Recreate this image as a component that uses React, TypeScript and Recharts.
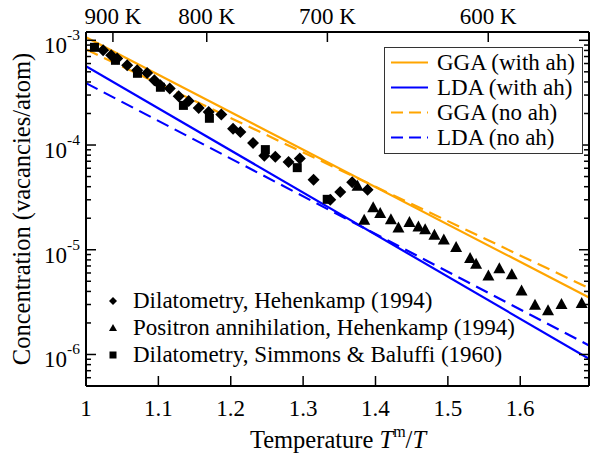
import React from 'react';
import { ComposedChart, Line, Scatter, XAxis, YAxis, Label } from 'recharts';

const FONT = "'Liberation Serif', Tinos, 'Nimbus Roman', 'DejaVu Serif', serif";
const W = 591;
const H = 457;

// ---- axes ----
const MELTING_T = 933.47; // K, aluminium
const xDomain: [number, number] = [1, 1.695];
const yDomain: [number, number] = [5e-7, 1.2e-3];
const xTicks = [1, 1.1, 1.2, 1.3, 1.4, 1.5, 1.6];
const topTemperatures = [900, 800, 700, 600];
const yDecades = [-7, -6, -5, -4, -3];

// ---- theory lines (Tm/T, concentration) ----
const lineX = [1.0, 1.695];
const ggaWithAh = [1.07e-3, 3.5e-6];
const ldaWithAh = [5.65e-4, 9.1e-7];
const ggaNoAh = [8.2e-4, 4.3e-6];
const ldaNoAh = [3.9e-4, 1.22e-6];

// ---- experiments ----
const dilHehX = [1.0237, 1.0348, 1.0431, 1.0569, 1.0707, 1.0845, 1.0945, 1.1028, 1.1157, 1.1281, 1.1419, 1.1557, 1.1695, 1.187, 1.2032, 1.2133, 1.2308, 1.2464, 1.2616, 1.2799, 1.2954, 1.3144, 1.3375, 1.3513, 1.3678, 1.389];
const dilHehY = [8.03e-4, 7.19e-4, 6.69e-4, 5.77e-4, 5.17e-4, 4.87e-4, 4.15e-4, 3.72e-4, 3.46e-4, 2.92e-4, 2.63e-4, 2.26e-4, 2.07e-4, 1.96e-4, 1.43e-4, 1.33e-4, 1.045e-4, 7.88e-5, 7.72e-5, 6.88e-5, 7.42e-5, 4.67e-5, 3.01e-5, 3.56e-5, 4.4e-5, 3.75e-5];

const positronX = [1.3752, 1.3844, 1.3968, 1.4065, 1.4213, 1.4317, 1.4469, 1.4593, 1.4686, 1.4814, 1.4944, 1.5114, 1.5307, 1.539, 1.556, 1.5711, 1.5883, 1.6018, 1.6204, 1.6384, 1.657, 1.6849];
const positronY = [4.08e-5, 1.93e-5, 2.54e-5, 2.24e-5, 1.95e-5, 1.63e-5, 1.84e-5, 1.67e-5, 1.57e-5, 1.39e-5, 1.25e-5, 1.06e-5, 8.33e-6, 7.37e-6, 5.69e-6, 6.64e-6, 5.82e-6, 4.09e-6, 2.98e-6, 2.64e-6, 3.04e-6, 3.1e-6];

const dilSimX = [1.0117, 1.0407, 1.0711, 1.1028, 1.1346, 1.1705, 1.2478, 1.2919, 1.3333];
const dilSimY = [8.57e-4, 6.44e-4, 4.84e-4, 3.56e-4, 2.39e-4, 1.8e-4, 9.04e-5, 6.08e-5, 3.03e-5];

const lineNames = ['GGA (with ah)', 'LDA (with ah)', 'GGA (no ah)', 'LDA (no ah)'];
const pointNames = ['Dilatometry, Hehenkamp (1994)', 'Positron annihilation, Hehenkamp (1994)', 'Dilatometry, Simmons & Baluffi (1960)'];

const ORANGE = '#FFA500';
const BLUE = '#0000FF';
const DASH = '13 7';
const TICK_FS = 23;
const TITLE_FS = 24.5;
const LEGEND_FS = 23;

const toPts = (xs: number[], ys: number[]) => xs.map((x, i) => ({ x, y: ys[i] }));

const yTicks: number[] = [];
for (const d of yDecades) {
  for (let k = 1; k <= 9; k++) {
    const v = k * Math.pow(10, d);
    if (v >= yDomain[0] * 0.999 && v <= yDomain[1]) yTicks.push(v);
  }
}
const topTicks = topTemperatures.map((t) => MELTING_T / t);

const isMajor = (v: number) => {
  const lg = Math.log10(v);
  return Math.abs(lg - Math.round(lg)) < 1e-6;
};

const BottomTick = ({ x, y, payload }: any) => (
  <g>
    <line x1={x} y1={y} x2={x} y2={y - 10} stroke="#000" strokeWidth={1.5} />
    <text x={x} y={y + 30} textAnchor="middle" fontFamily={FONT} fontSize={TICK_FS} fill="#000">
      {payload.value === 1 ? '1' : payload.value.toFixed(1)}
    </text>
  </g>
);

const TopTick = ({ x, y, payload }: any) => (
  <g>
    <line x1={x} y1={y} x2={x} y2={y + 10} stroke="#000" strokeWidth={1.5} />
    <text x={x} y={y - 8} textAnchor="middle" fontFamily={FONT} fontSize={TICK_FS} fill="#000">
      {`${Math.round(MELTING_T / payload.value)} K`}
    </text>
  </g>
);

const LeftTick = ({ x, y, payload }: any) => {
  const v = payload.value;
  const major = isMajor(v);
  return (
    <g>
      <line x1={x} y1={y} x2={x + (major ? 10 : 5)} y2={y} stroke="#000" strokeWidth={1.5} />
      {major && (
        <text x={x - 6} y={y + 13} textAnchor="end" fontFamily={FONT} fontSize={TICK_FS} fill="#000">
          10
          <tspan dy={-13} fontSize={15.5}>{String(Math.round(Math.log10(v)))}</tspan>
        </text>
      )}
    </g>
  );
};

const RightTick = ({ x, y, payload }: any) => {
  const major = isMajor(payload.value);
  return <line x1={x} y1={y} x2={x - (major ? 10 : 5)} y2={y} stroke="#000" strokeWidth={1.5} />;
};

const DiamondShape = ({ cx, cy }: any) => (
  <polygon points={`${cx},${cy - 6} ${cx + 6},${cy} ${cx},${cy + 6} ${cx - 6},${cy}`} fill="#000" />
);
const TriangleShape = ({ cx, cy }: any) => (
  <polygon points={`${cx},${cy - 6} ${cx + 6},${cy + 5} ${cx - 6},${cy + 5}`} fill="#000" />
);
const SquareShape = ({ cx, cy }: any) => (
  <rect x={cx - 4.5} y={cy - 4.5} width={9} height={9} fill="#000" />
);

const YTitle = () => (
  <text
    x={21}
    y={209}
    transform="rotate(-90 21 209)"
    textAnchor="middle"
    dominantBaseline="central"
    fontFamily={FONT}
    fontSize={TITLE_FS}
    fill="#000"
  >
    Concentration (vacancies/atom)
  </text>
);

const XTitle = () => (
  <text x={338} y={448} textAnchor="middle" fontFamily={FONT} fontSize={TITLE_FS} fill="#000">
    Temperature{' '}
    <tspan fontStyle="italic">T</tspan>
    <tspan dy={-11} fontSize={16}>m</tspan>
    <tspan dy={11}>/</tspan>
    <tspan fontStyle="italic">T</tspan>
  </text>
);

const lineStyles = [
  { color: ORANGE, dash: undefined as string | undefined },
  { color: BLUE, dash: undefined as string | undefined },
  { color: ORANGE, dash: DASH },
  { color: BLUE, dash: DASH },
];

const markerLegend = [
  (s: number) => <polygon points={`${s},${s - 4} ${s + 4},${s} ${s},${s + 4} ${s - 4},${s}`} fill="#000" />,
  (s: number) => <polygon points={`${s},${s - 4} ${s + 4},${s + 3} ${s - 4},${s + 3}`} fill="#000" />,
  (s: number) => <rect x={s - 3.5} y={s - 3.5} width={7} height={7} fill="#000" />,
];

export default function App() {
  const lineSeries = [ggaWithAh, ldaWithAh, ggaNoAh, ldaNoAh];
  return (
    <div style={{ position: 'absolute', left: 0, top: 0, width: W, height: H, background: '#fff', fontFamily: FONT }}>
      <ComposedChart width={W} height={H} margin={{ top: 0, right: 0, bottom: 0, left: 0 }}>
        <XAxis
          xAxisId="b"
          dataKey="x"
          type="number"
          domain={xDomain}
          allowDataOverflow
          ticks={xTicks}
          interval={0}
          height={71}
          tickSize={0}
          tickMargin={0}
          tickLine={false}
          tick={<BottomTick />}
          axisLine={{ stroke: '#000', strokeWidth: 2 }}
        >
          <Label content={<XTitle />} />
        </XAxis>
        <XAxis
          xAxisId="t"
          orientation="top"
          dataKey="x"
          type="number"
          domain={xDomain}
          allowDataOverflow
          ticks={topTicks}
          interval={0}
          height={32}
          tickSize={0}
          tickMargin={0}
          tickLine={false}
          tick={<TopTick />}
          axisLine={{ stroke: '#000', strokeWidth: 2 }}
        />
        <YAxis
          yAxisId="l"
          dataKey="y"
          scale="log"
          type="number"
          domain={yDomain}
          allowDataOverflow
          ticks={yTicks}
          interval={0}
          width={86}
          tickSize={0}
          tickMargin={0}
          tickLine={false}
          tick={<LeftTick />}
          axisLine={{ stroke: '#000', strokeWidth: 2 }}
        >
          <Label content={<YTitle />} />
        </YAxis>
        <YAxis
          yAxisId="r"
          orientation="right"
          dataKey="y"
          scale="log"
          type="number"
          domain={yDomain}
          allowDataOverflow
          ticks={yTicks}
          interval={0}
          width={2}
          tickSize={0}
          tickMargin={0}
          tickLine={false}
          tick={<RightTick />}
          axisLine={{ stroke: '#000', strokeWidth: 2 }}
        />
        {lineSeries.map((ys, i) => (
          <Line
            key={lineNames[i]}
            name={lineNames[i]}
            xAxisId="b"
            yAxisId="l"
            data={toPts(lineX, ys)}
            dataKey="y"
            type="linear"
            stroke={lineStyles[i].color}
            strokeWidth={2.2}
            strokeDasharray={lineStyles[i].dash}
            dot={false}
            activeDot={false}
            isAnimationActive={false}
          />
        ))}
        <Scatter name={pointNames[0]} xAxisId="b" yAxisId="l" data={toPts(dilHehX, dilHehY)} shape={<DiamondShape />} isAnimationActive={false} />
        <Scatter name={pointNames[1]} xAxisId="b" yAxisId="l" data={toPts(positronX, positronY)} shape={<TriangleShape />} isAnimationActive={false} />
        <Scatter name={pointNames[2]} xAxisId="b" yAxisId="l" data={toPts(dilSimX, dilSimY)} shape={<SquareShape />} isAnimationActive={false} />
      </ComposedChart>

      {/* upper legend (theory) */}
      <div
        style={{
          position: 'absolute',
          left: 384,
          top: 47,
          width: 199,
          height: 107,
          boxSizing: 'border-box',
          border: '1.5px solid #333',
          background: '#fff',
        }}
      >
        {lineNames.map((n, i) => (
          <div
            key={n}
            style={{
              position: 'absolute',
              left: 0,
              top: 2 + i * 25,
              height: 25,
              display: 'flex',
              alignItems: 'center',
              whiteSpace: 'nowrap',
            }}
          >
            <svg width={48} height={25} style={{ display: 'block' }}>
              <line x1={6} y1={12.5} x2={43} y2={12.5} stroke={lineStyles[i].color} strokeWidth={2.2} strokeDasharray={lineStyles[i].dash ? '12 6' : undefined} />
            </svg>
            <span style={{ fontFamily: FONT, fontSize: LEGEND_FS, lineHeight: '25px', marginLeft: 4, color: '#000' }}>{n}</span>
          </div>
        ))}
      </div>

      {/* lower legend (experiment) */}
      {pointNames.map((n, i) => (
        <div
          key={n}
          style={{
            position: 'absolute',
            left: 104,
            top: 288 + i * 27,
            height: 26,
            display: 'flex',
            alignItems: 'center',
            whiteSpace: 'nowrap',
          }}
        >
          <svg width={18} height={26} style={{ display: 'block' }}>
            <g transform="translate(0,4)">{markerLegend[i](9)}</g>
          </svg>
          <span style={{ fontFamily: FONT, fontSize: LEGEND_FS, lineHeight: '26px', marginLeft: 11, color: '#000' }}>{n}</span>
        </div>
      ))}
    </div>
  );
}
